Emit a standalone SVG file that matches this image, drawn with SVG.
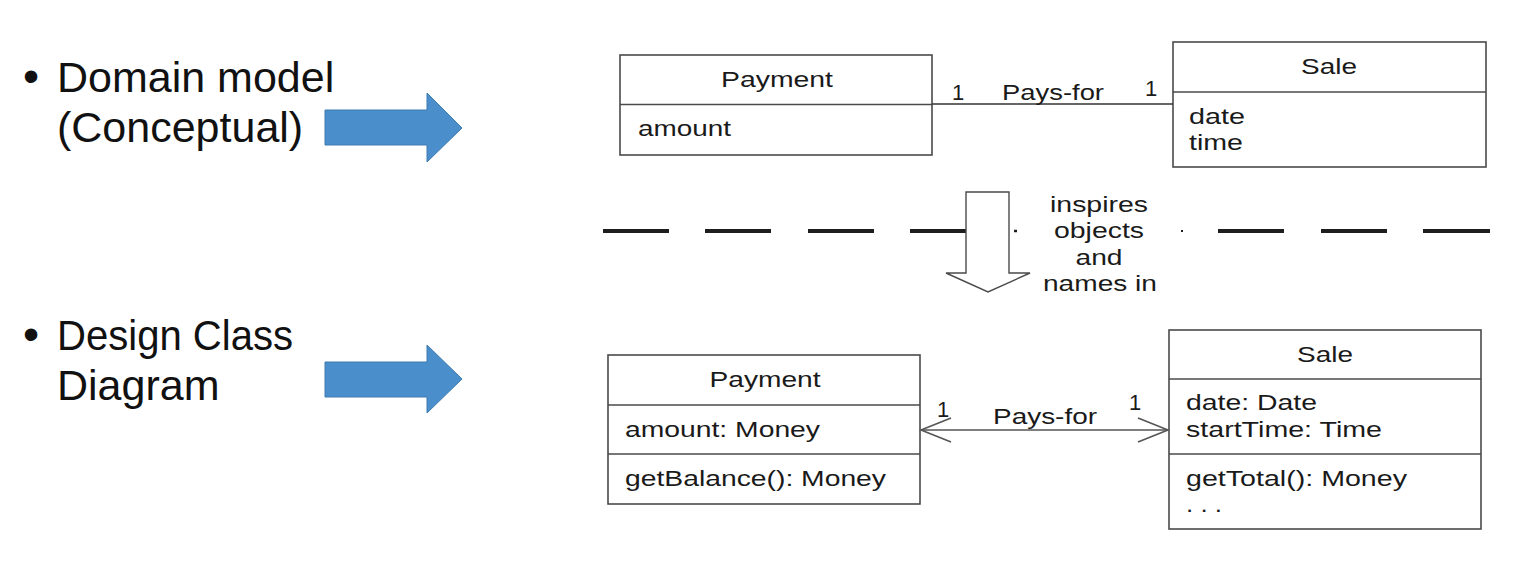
<svg xmlns="http://www.w3.org/2000/svg" width="1523" height="577" viewBox="0 0 1523 577">
<style>
.lbl{font-family:"Liberation Sans",Arial,sans-serif;font-size:43px;fill:#111}
.bul{font-size:46px}
.u{font-family:"Liberation Sans",Arial,sans-serif;font-size:22px;fill:#1a1a1a}
.box{fill:#fff;stroke:#4a4a4a;stroke-width:1.6}
.div{stroke:#4a4a4a;stroke-width:1.6}
.blue{fill:#4a8fcb;stroke:#3e7bb0;stroke-width:1}
.dash{stroke:#1e1e1e;stroke-width:4}
.assoc{stroke:#555;stroke-width:1.6;fill:none}
</style>
<rect width="1523" height="577" fill="#fff"/>

<g id="label-domain">
<text class="lbl" x="23" y="92"><tspan class="bul">•</tspan><tspan x="57">Domain model</tspan></text>
<text class="lbl" x="57" y="142">(Conceptual)</text>
</g>
<g id="label-design">
<text class="lbl" x="23" y="350"><tspan class="bul">•</tspan><tspan x="57" textLength="236" lengthAdjust="spacingAndGlyphs">Design Class</tspan></text>
<text class="lbl" x="57" y="400">Diagram</text>
</g>

<g id="blue-arrow-1">
<polygon class="blue" points="325,110 427,110 427,93 462,128 427,162 427,145 325,145"/>
</g>
<g id="blue-arrow-2">
<polygon class="blue" points="325,362 427,362 427,345 462,379 427,413 427,397 325,397"/>
</g>

<g id="domain-payment">
<rect class="box" x="620" y="55" width="312" height="100"/>
<line class="div" x1="620" y1="104.5" x2="932" y2="104.5"/>
<text class="u" x="777" y="87" text-anchor="middle" textLength="112" lengthAdjust="spacingAndGlyphs">Payment</text>
<text class="u" x="638" y="136" textLength="93" lengthAdjust="spacingAndGlyphs">amount</text>
</g>
<g id="domain-sale">
<rect class="box" x="1173" y="42" width="313" height="125"/>
<line class="div" x1="1173" y1="92" x2="1486" y2="92"/>
<text class="u" x="1329" y="74" text-anchor="middle" textLength="56" lengthAdjust="spacingAndGlyphs">Sale</text>
<text class="u" x="1189" y="124" textLength="56" lengthAdjust="spacingAndGlyphs">date</text>
<text class="u" x="1189" y="150" textLength="54" lengthAdjust="spacingAndGlyphs">time</text>
</g>

<g id="separator">
<line class="dash" x1="603" y1="231" x2="669" y2="231"/>
<line class="dash" x1="705" y1="231" x2="771" y2="231"/>
<line class="dash" x1="808" y1="231" x2="874" y2="231"/>
<line class="dash" x1="910" y1="231" x2="967" y2="231"/>
<line class="dash" x1="1014" y1="231" x2="1017" y2="231" style="stroke-width:2.5"/>
<line class="dash" x1="1181" y1="231" x2="1183" y2="231" style="stroke-width:2"/>
<line class="dash" x1="1218" y1="231" x2="1284" y2="231"/>
<line class="dash" x1="1321" y1="231" x2="1387" y2="231"/>
<line class="dash" x1="1423" y1="231" x2="1490" y2="231"/>
</g>

<g id="inspires-arrow">
<polygon points="966,192 1009,192 1009,273 1030,273 988,292 946,273 966,273" fill="#fff" stroke="#4a4a4a" stroke-width="1.4"/>
<text class="u" x="1099" y="212" text-anchor="middle" textLength="98" lengthAdjust="spacingAndGlyphs">inspires</text>
<text class="u" x="1099" y="238" text-anchor="middle" textLength="90" lengthAdjust="spacingAndGlyphs">objects</text>
<text class="u" x="1099" y="265" text-anchor="middle" textLength="47" lengthAdjust="spacingAndGlyphs">and</text>
<text class="u" x="1100" y="291" text-anchor="middle" textLength="114" lengthAdjust="spacingAndGlyphs">names in</text>
</g>

<g id="design-payment">
<rect class="box" x="608" y="355" width="312" height="149"/>
<line class="div" x1="608" y1="405" x2="920" y2="405"/>
<line class="div" x1="608" y1="454" x2="920" y2="454"/>
<text class="u" x="765" y="387" text-anchor="middle" textLength="111" lengthAdjust="spacingAndGlyphs">Payment</text>
<text class="u" x="625" y="437" textLength="195" lengthAdjust="spacingAndGlyphs">amount: Money</text>
<text class="u" x="625" y="486" textLength="261" lengthAdjust="spacingAndGlyphs">getBalance(): Money</text>
</g>
<g id="design-sale">
<rect class="box" x="1169" y="330" width="312" height="199"/>
<line class="div" x1="1169" y1="379" x2="1481" y2="379"/>
<line class="div" x1="1169" y1="454" x2="1481" y2="454"/>
<text class="u" x="1325" y="362" text-anchor="middle" textLength="56" lengthAdjust="spacingAndGlyphs">Sale</text>
<text class="u" x="1186" y="410" textLength="131" lengthAdjust="spacingAndGlyphs">date: Date</text>
<text class="u" x="1186" y="437" textLength="196" lengthAdjust="spacingAndGlyphs">startTime: Time</text>
<text class="u" x="1186" y="486" textLength="221" lengthAdjust="spacingAndGlyphs">getTotal(): Money</text>
<text class="u" x="1186" y="512" textLength="36" lengthAdjust="spacingAndGlyphs">. . .</text>
</g>

<g id="connectors">
<line x1="932" y1="104" x2="1173" y2="104" stroke="#333" stroke-width="1.4"/>
<text class="u" x="958" y="100" text-anchor="middle">1</text>
<text class="u" x="1053" y="100" text-anchor="middle" textLength="102" lengthAdjust="spacingAndGlyphs">Pays-for</text>
<text class="u" x="1151" y="96" text-anchor="middle">1</text>

<line class="assoc" x1="921" y1="430" x2="1168" y2="430"/>
<polyline class="assoc" points="951,418 921,430 951,442"/>
<polyline class="assoc" points="1138,418 1168,430 1138,442"/>
<text class="u" x="943" y="417" text-anchor="middle">1</text>
<text class="u" x="1045" y="424" text-anchor="middle" textLength="104" lengthAdjust="spacingAndGlyphs">Pays-for</text>
<text class="u" x="1135" y="410" text-anchor="middle">1</text>
</g>
</svg>
